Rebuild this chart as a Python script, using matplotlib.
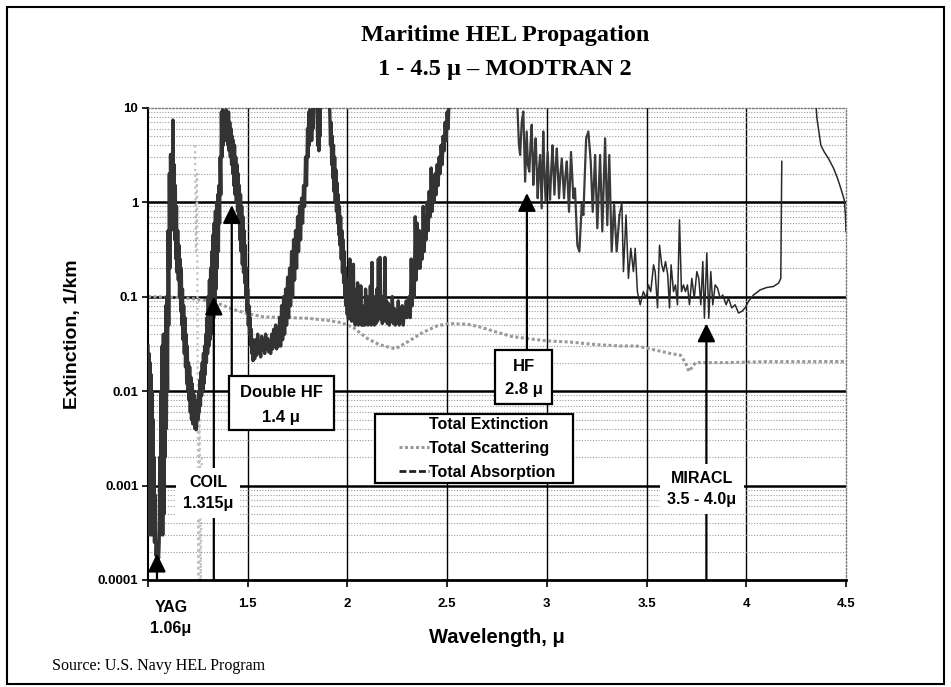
import numpy as np
import matplotlib
matplotlib.use("Agg")
import matplotlib.pyplot as plt
from matplotlib.patches import Rectangle
from matplotlib.lines import Line2D

plt.rcParams['font.family'] = ['Liberation Sans', 'DejaVu Sans']

# total absorption (wavelength in microns, 1/km)
yag_band = [
    (1.000, 0.03), (1.0025, 0.0004), (1.005, 0.025), (1.0075, 0.0003), (1.010, 0.02),
    (1.0125, 0.00035), (1.015, 0.015), (1.0175, 0.0003), (1.020, 0.01), (1.0225, 0.0004),
    (1.025, 0.005), (1.0275, 0.0003), (1.030, 0.002), (1.0325, 0.00025), (1.035, 0.0008),
    (1.038, 0.0003), (1.041, 0.00018), (1.044, 0.00025), (1.047, 0.00016), (1.050, 0.0002),
    (1.053, 0.00017), (1.056, 0.00025), (1.059, 0.002), (1.062, 0.0003), (1.065, 0.01),
    (1.068, 0.0004), (1.071, 0.03), (1.074, 0.0003), (1.077, 0.04), (1.080, 0.0005),
    (1.083, 0.04), (1.086, 0.002), (1.089, 0.08), (1.092, 0.004), (1.095, 0.1),
    (1.098, 0.01), (1.101, 0.5), (1.104, 0.05), (1.107, 2.0), (1.110, 0.2),
    (1.113, 3.2), (1.116, 0.5), (1.119, 3.0), (1.122, 0.6), (1.125, 7.4),
    (1.128, 0.8), (1.131, 2.5), (1.134, 0.4), (1.137, 1.5), (1.140, 0.25),
    (1.143, 0.9), (1.146, 0.18), (1.149, 0.5), (1.152, 0.15), (1.155, 0.35),
    (1.158, 0.1), (1.161, 0.25), (1.164, 0.07), (1.167, 0.2), (1.170, 0.05),
    (1.173, 0.12), (1.176, 0.035), (1.179, 0.08), (1.182, 0.025), (1.185, 0.06),
    (1.188, 0.018), (1.191, 0.04), (1.194, 0.012), (1.197, 0.03), (1.200, 0.01),
    (1.203, 0.02), (1.206, 0.008), (1.209, 0.018), (1.212, 0.006), (1.215, 0.014),
    (1.218, 0.005), (1.221, 0.012), (1.224, 0.0045), (1.227, 0.01), (1.230, 0.0045),
    (1.233, 0.009), (1.236, 0.004), (1.239, 0.007), (1.242, 0.0039), (1.245, 0.005),
]
coil_band = [
    (1.248, 0.008), (1.251, 0.005), (1.254, 0.01), (1.257, 0.006), (1.260, 0.013),
    (1.263, 0.007), (1.266, 0.016), (1.269, 0.009), (1.272, 0.02), (1.275, 0.01),
    (1.278, 0.025), (1.281, 0.012), (1.284, 0.03), (1.287, 0.015), (1.290, 0.04),
    (1.293, 0.02), (1.296, 0.06), (1.299, 0.025), (1.302, 0.1), (1.305, 0.03),
    (1.308, 0.15), (1.311, 0.035), (1.314, 0.2), (1.317, 0.04), (1.320, 0.3),
    (1.323, 0.05), (1.326, 0.45), (1.329, 0.06), (1.332, 0.6), (1.335, 0.08),
    (1.338, 0.8), (1.341, 0.12), (1.344, 1.0), (1.347, 0.2), (1.350, 1.2),
    (1.353, 0.3), (1.356, 1.5), (1.359, 0.6), (1.362, 3.0), (1.365, 1.2),
    (1.368, 9.0), (1.371, 3.0), (1.374, 9.5), (1.377, 4.0), (1.380, 9.0),
    (1.383, 5.0), (1.386, 8.0), (1.389, 4.5), (1.392, 9.5), (1.395, 5.0),
    (1.398, 8.5), (1.401, 4.0), (1.404, 9.0), (1.407, 3.5), (1.410, 7.0),
    (1.413, 3.0), (1.416, 6.0), (1.419, 2.5), (1.422, 5.0), (1.425, 2.0),
    (1.428, 4.5), (1.431, 1.5), (1.434, 4.0), (1.437, 1.2), (1.440, 3.0),
    (1.443, 1.0), (1.446, 2.5), (1.449, 0.8), (1.452, 2.0), (1.455, 0.6),
    (1.458, 1.5), (1.461, 0.4), (1.464, 1.2), (1.467, 0.3), (1.470, 0.9),
    (1.473, 0.22), (1.476, 0.7), (1.479, 0.18), (1.482, 0.5), (1.485, 0.14),
    (1.488, 0.35), (1.491, 0.1), (1.494, 0.2), (1.497, 0.07), (1.500, 0.12),
    (1.503, 0.05), (1.506, 0.08), (1.509, 0.04), (1.512, 0.06), (1.515, 0.03),
    (1.518, 0.045), (1.521, 0.025), (1.524, 0.035), (1.527, 0.021), (1.530, 0.03),
]
window_16 = [
    (1.535, 0.022), (1.540, 0.035), (1.545, 0.024), (1.550, 0.04), (1.555, 0.026),
    (1.560, 0.033), (1.565, 0.023), (1.570, 0.038), (1.575, 0.027), (1.580, 0.034),
    (1.585, 0.025), (1.590, 0.04), (1.595, 0.028), (1.600, 0.036), (1.605, 0.026),
    (1.610, 0.032), (1.615, 0.025), (1.620, 0.04), (1.625, 0.028), (1.630, 0.045),
    (1.635, 0.03), (1.640, 0.05), (1.645, 0.028), (1.650, 0.045),
]
band_19 = [
    (1.655, 0.03), (1.660, 0.06), (1.665, 0.03), (1.670, 0.08), (1.675, 0.035),
    (1.680, 0.1), (1.685, 0.04), (1.690, 0.12), (1.695, 0.05), (1.700, 0.16),
    (1.705, 0.06), (1.710, 0.2), (1.715, 0.08), (1.720, 0.3), (1.725, 0.1),
    (1.730, 0.4), (1.735, 0.15), (1.740, 0.5), (1.745, 0.2), (1.750, 0.7),
    (1.755, 0.3), (1.760, 0.9), (1.765, 0.4), (1.770, 1.1), (1.775, 0.6),
    (1.780, 1.5), (1.785, 0.9), (1.790, 3.0), (1.795, 1.5), (1.800, 6.0),
    (1.803, 3.0), (1.806, 9.0), (1.809, 4.0), (1.812, 9.5), (1.815, 5.0),
    (1.818, 9.0), (1.821, 4.5), (1.824, 9.5), (1.827, 6.0), (1.830, 9.0),
    (1.833, 30), (1.845, 30), (1.848, 9.0), (1.851, 4.0), (1.854, 8.0),
    (1.857, 3.5), (1.860, 9.0), (1.863, 5.0), (1.866, 30), (1.905, 30),
    (1.912, 8.0), (1.915, 4.0), (1.918, 7.0), (1.921, 2.5), (1.924, 5.0),
    (1.927, 1.8), (1.930, 4.0), (1.933, 1.3), (1.936, 3.0), (1.939, 1.0),
    (1.942, 2.2), (1.945, 0.8), (1.948, 1.6), (1.951, 0.6), (1.954, 1.2),
    (1.957, 0.45), (1.960, 0.9), (1.963, 0.35), (1.966, 0.7), (1.969, 0.25),
    (1.972, 0.5), (1.975, 0.18), (1.978, 0.4), (1.981, 0.14), (1.984, 0.3),
    (1.987, 0.1), (1.990, 0.2), (1.993, 0.08), (1.996, 0.15), (1.999, 0.065),
    (2.002, 0.12), (2.005, 0.058), (2.008, 0.09),
]
window_22 = [
    (2.012, 0.25), (2.015, 0.06), (2.018, 0.2), (2.021, 0.055), (2.024, 0.15),
    (2.027, 0.06), (2.030, 0.22), (2.033, 0.055), (2.036, 0.12), (2.039, 0.05),
    (2.043, 0.09), (2.047, 0.055), (2.051, 0.14), (2.055, 0.05), (2.059, 0.1),
    (2.063, 0.052), (2.067, 0.13), (2.071, 0.05), (2.075, 0.08), (2.079, 0.05),
    (2.083, 0.07), (2.087, 0.05), (2.091, 0.12), (2.095, 0.055), (2.099, 0.1),
    (2.103, 0.05), (2.107, 0.08), (2.111, 0.052), (2.115, 0.13), (2.119, 0.05),
    (2.123, 0.23), (2.127, 0.055), (2.131, 0.1), (2.135, 0.05), (2.139, 0.09),
    (2.143, 0.052), (2.147, 0.12), (2.151, 0.055), (2.155, 0.25), (2.159, 0.06),
    (2.163, 0.26), (2.167, 0.058), (2.171, 0.09), (2.175, 0.052), (2.179, 0.1),
    (2.183, 0.055), (2.188, 0.26), (2.192, 0.06), (2.196, 0.09), (2.200, 0.052),
    (2.205, 0.085), (2.210, 0.05), (2.215, 0.08), (2.220, 0.055), (2.225, 0.1),
    (2.230, 0.052), (2.235, 0.075), (2.240, 0.05), (2.245, 0.07), (2.250, 0.052),
    (2.255, 0.09), (2.260, 0.05), (2.265, 0.07), (2.270, 0.055), (2.275, 0.08),
    (2.280, 0.05), (2.285, 0.075), (2.290, 0.06), (2.295, 0.09),
]
band_26 = [
    (2.300, 0.06), (2.310, 0.1), (2.315, 0.06), (2.320, 0.25), (2.325, 0.08),
    (2.330, 0.2), (2.335, 0.1), (2.340, 0.7), (2.345, 0.15), (2.350, 0.6),
    (2.355, 0.2), (2.360, 0.5), (2.365, 0.2), (2.370, 0.4), (2.375, 0.25),
    (2.380, 0.9), (2.385, 0.3), (2.390, 0.7), (2.395, 0.4), (2.400, 1.0),
    (2.405, 0.5), (2.410, 1.3), (2.415, 0.7), (2.420, 2.3), (2.425, 0.8),
    (2.430, 1.6), (2.435, 1.0), (2.440, 2.0), (2.445, 1.2), (2.450, 2.5),
    (2.455, 1.5), (2.460, 3.0), (2.465, 2.0), (2.470, 4.0), (2.475, 2.5),
    (2.480, 5.0), (2.485, 3.5), (2.490, 7.0), (2.495, 4.5), (2.500, 9.0),
    (2.505, 6.0), (2.515, 30), (2.845, 30),
]
hf_band = [
    (2.845, 30), (2.854, 8.4), (2.860, 4.0), (2.866, 3.16), (2.874, 7.0), (2.882, 9.1),
    (2.891, 1.65), (2.899, 5.6), (2.905, 2.5), (2.912, 2.1), (2.918, 4.0),
    (2.924, 6.6), (2.932, 1.52), (2.938, 3.0), (2.944, 4.74), (2.954, 1.1),
    (2.960, 2.2), (2.966, 3.16), (2.974, 0.86), (2.982, 5.6), (2.988, 2.0),
    (2.994, 1.0), (3.004, 3.4), (3.010, 1.6), (3.016, 1.06), (3.022, 2.2),
    (3.028, 4.0), (3.038, 1.2), (3.044, 2.4), (3.050, 3.7), (3.061, 1.1),
    (3.068, 2.0), (3.075, 2.9), (3.086, 1.1), (3.093, 1.9), (3.100, 2.7),
    (3.111, 0.79), (3.121, 3.4), (3.133, 1.1), (3.141, 1.4), (3.153, 0.35),
    (3.163, 0.30), (3.175, 0.94), (3.183, 0.73), (3.197, 4.74), (3.208, 5.6),
    (3.220, 2.7), (3.230, 0.79), (3.242, 3.16), (3.253, 0.53), (3.267, 3.16),
    (3.278, 0.49), (3.292, 4.74), (3.303, 0.57), (3.313, 3.16), (3.325, 0.30),
    (3.337, 0.94), (3.350, 0.30), (3.364, 0.73),
]
miracl_band = [
    (3.364, 0.73), (3.376, 1.0), (3.384, 0.184), (3.397, 0.73), (3.409, 0.156), (3.421, 0.325),
    (3.434, 0.184), (3.443, 0.325), (3.454, 0.113), (3.468, 0.082), (3.484, 0.113),
    (3.498, 0.096), (3.509, 0.133), (3.521, 0.113), (3.535, 0.217), (3.543, 0.184),
    (3.555, 0.076), (3.565, 0.35), (3.576, 0.217), (3.585, 0.184), (3.595, 0.235),
    (3.606, 0.17), (3.615, 0.076), (3.623, 0.217), (3.635, 0.113), (3.645, 0.133),
    (3.655, 0.082), (3.665, 0.65), (3.675, 0.113), (3.685, 0.133), (3.695, 0.113),
    (3.705, 0.133), (3.715, 0.082), (3.727, 0.156), (3.739, 0.096), (3.752, 0.184),
    (3.762, 0.156), (3.772, 0.082), (3.782, 0.235), (3.790, 0.059), (3.802, 0.29),
    (3.812, 0.059), (3.822, 0.184), (3.832, 0.082), (3.844, 0.133), (3.856, 0.123),
    (3.869, 0.096), (3.882, 0.104), (3.899, 0.082), (3.911, 0.096), (3.927, 0.076),
    (3.944, 0.082), (3.961, 0.067), (3.978, 0.070), (3.994, 0.076), (4.011, 0.089),
    (4.036, 0.104), (4.070, 0.118), (4.103, 0.125), (4.136, 0.128), (4.162, 0.139),
    (4.173, 0.156), (4.178, 2.7), (4.178, np.nan),
]
edge_45 = [
    (4.348, 12.0), (4.354, 7.8), (4.374, 4.0), (4.391, 3.4), (4.412, 2.9),
    (4.437, 2.3), (4.457, 1.8), (4.474, 1.4), (4.491, 1.06), (4.497, 0.73),
    (4.500, 0.49),
]

# faint trace in the COIL window
faint_wl = [1.236, 1.240, 1.246, 1.252, 1.258, 1.264, 1.270]
faint_val = [4.0, 0.3, 2.0, 0.0001, 0.01, 0.00008, 0.002]

# total scattering
scat_wl = [1.00, 1.15, 1.25, 1.30, 1.35, 1.42, 1.50, 1.58, 1.70, 1.80,
           1.90, 1.97, 2.03, 2.10, 2.16, 2.24, 2.30, 2.38, 2.45, 2.51,
           2.60, 2.66, 2.75, 2.82, 2.90, 3.00, 3.12, 3.25, 3.37, 3.45,
           3.55, 3.62, 3.67, 3.695, 3.712, 3.73, 3.745, 3.90, 4.10, 4.30, 4.50]
scat_val = [0.100, 0.098, 0.094, 0.090, 0.085, 0.074, 0.066, 0.061, 0.060, 0.059,
            0.056, 0.053, 0.047, 0.036, 0.031, 0.028, 0.033, 0.042, 0.049, 0.052,
            0.051, 0.048, 0.042, 0.038, 0.036, 0.034, 0.033, 0.031, 0.030, 0.030,
            0.027, 0.025, 0.024, 0.020, 0.0162, 0.018, 0.020, 0.020, 0.0205, 0.0205, 0.0206]

# laser lines: arrow x, tip and tail
laser_wl = [1.045, 1.33, 1.42, 2.90, 3.80]
laser_tip = [0.00019, 0.1, 0.93, 1.25, 0.052]
laser_tail = [0.0001, 0.0001, 0.0145, 0.027, 0.0001]

decades = [0.001, 0.01, 0.1, 1]
x_major = [1.5, 2, 2.5, 3, 3.5, 4]


def split(band):
    return np.array([p[0] for p in band]), np.array([p[1] for p in band])


fig = plt.figure(figsize=(9.51, 6.87), dpi=100)
ax = fig.add_axes([148/951, 1-580/687, 698/951, 472.3/687])
ax.set_yscale('log')
ax.set_xlim(1, 4.5)
ax.set_ylim(1e-4, 10)

# grid
ax.grid(which='minor', axis='y', color='#9a9a9a', ls=(0, (1, 1.5)), lw=0.8)
for d in decades:
    ax.axhline(d, color='black', lw=1.8, zorder=1)
for xv in x_major:
    ax.axvline(xv, color='black', lw=1.0, zorder=1)

ax.plot(faint_wl, faint_val, color='#c0c0c0', ls=':', lw=1.6, zorder=1.5)
scat_line, = ax.plot(scat_wl, scat_val, color='#9a9a9a', ls=(0, (1, 0.8)), lw=2.2, zorder=2)

# absorption: dense bands drawn heavy, the sparser long-wave part lighter
heavy_wl, heavy_val = split(yag_band + coil_band + window_16 + band_19 + window_22 + band_26)
ax.plot(heavy_wl, heavy_val, color='#333333', lw=2.4, zorder=3)
hf_wl, hf_val = split(hf_band)
ax.plot(hf_wl, hf_val, color='#3a3a3a', lw=1.6, zorder=3)
mir_wl, mir_val = split(miracl_band + edge_45)
ax.plot(mir_wl, mir_val, color='#2a2a2a', lw=1.1, zorder=3)
abs_handle = Line2D([], [], color='#222222', ls=(0, (2.5, 1)), lw=2.0)

for xv, tip, tail in zip(laser_wl, laser_tip, laser_tail):
    ax.annotate('', xy=(xv, tip), xytext=(xv, tail),
                arrowprops=dict(arrowstyle='-|>,head_length=0.55,head_width=0.27',
                                color='black', lw=1.6, shrinkA=0, shrinkB=0,
                                mutation_scale=20), zorder=4)

# ticks and spines
ax.set_yticks([1e-4, 1e-3, 1e-2, 1e-1, 1, 10])
ax.set_yticklabels(['0.0001', '0.001', '0.01', '0.1', '1', '10'])
ax.set_xticks([1, 1.5, 2, 2.5, 3, 3.5, 4, 4.5])
ax.set_xticklabels(['', '1.5', '2', '2.5', '3', '3.5', '4', '4.5'])
ax.tick_params(axis='y', which='major', length=4, width=1.2, pad=3, labelsize=9.5)
ax.tick_params(axis='y', which='minor', length=0)
ax.tick_params(axis='x', length=5, width=1.2, pad=8, labelsize=9.5)
for lab in ax.get_xticklabels() + ax.get_yticklabels():
    lab.set_fontweight('bold')
for side in ['top', 'right']:
    ax.spines[side].set_linestyle((0, (1, 1.5)))
    ax.spines[side].set_color('#777777')
    ax.spines[side].set_linewidth(1.0)
ax.spines['left'].set_linewidth(1.5)
ax.spines['bottom'].set_linewidth(2.0)

ax.set_ylabel('Extinction, 1/km', fontsize=14, fontweight='bold')
ax.yaxis.set_label_coords(-0.096, 0.521)
ax.set_xlabel('Wavelength, μ', fontsize=14.5, fontweight='bold')
ax.xaxis.set_label_coords(0.5, -0.102)

# boxed labels
box_kw = dict(transform=ax.transAxes, facecolor='white', edgecolor='black', lw=1.6, zorder=6)
ax.add_patch(Rectangle((0.116, 0.3176), 0.1505, 0.1144, **box_kw))
ax.text(0.191, 0.396, 'Double HF', transform=ax.transAxes, ha='center', va='center',
        fontsize=12, fontweight='bold', zorder=7)
ax.text(0.191, 0.345, '1.4 μ', transform=ax.transAxes, ha='center', va='center',
        fontsize=12, fontweight='bold', zorder=7)
ax.add_patch(Rectangle((0.497, 0.3727), 0.082, 0.1143, **box_kw))
ax.text(0.538, 0.453, 'HF', transform=ax.transAxes, ha='center', va='center',
        fontsize=12, fontweight='bold', zorder=7)
ax.text(0.538, 0.404, '2.8 μ', transform=ax.transAxes, ha='center', va='center',
        fontsize=12, fontweight='bold', zorder=7)

plain_kw = dict(transform=ax.transAxes, ha='center', va='center', fontsize=11.5,
                fontweight='bold', linespacing=1.5, zorder=7)
ax.text(0.086, 0.184, 'COIL\n1.315μ', bbox=dict(boxstyle='square,pad=0.45', fc='white', ec='none'), **plain_kw)
ax.text(0.7937, 0.1927, 'MIRACL\n3.5 - 4.0μ', bbox=dict(boxstyle='square,pad=0.45', fc='white', ec='none'), **plain_kw)
ax.text(0.033, -0.080, 'YAG\n1.06μ', clip_on=False, **plain_kw)

# legend
ax.add_patch(Rectangle((0.325, 0.2054), 0.284, 0.1461, **box_kw))
ext_handle = Line2D([], [], color='none')
leg = ax.legend([ext_handle, scat_line, abs_handle],
                ['Total Extinction', 'Total Scattering', 'Total Absorption'],
                loc='upper left', bbox_to_anchor=(0.355, 0.352), frameon=False,
                prop={'weight': 'bold', 'size': 11.5}, handlelength=1.9,
                handletextpad=0.0, labelspacing=0.55, borderpad=0.2, borderaxespad=0)
leg.set_zorder(8)

# titles, source, frame
fig.text(505/951, 1-36/687, 'Maritime HEL Propagation', ha='center', va='center',
         fontsize=17.5, fontweight='bold', family=['Liberation Serif', 'DejaVu Serif'])
fig.text(505/951, 1-70/687, '1 - 4.5 μ – MODTRAN 2', ha='center', va='center',
         fontsize=17.5, fontweight='bold', family=['Liberation Serif', 'DejaVu Serif'])
fig.text(52/951, 1-666/687, 'Source: U.S. Navy HEL Program', ha='left', va='center',
         fontsize=11.5, family=['Liberation Serif', 'DejaVu Serif'])
fig.add_artist(Rectangle((7/951, 3/687), 937/951, 677/687, transform=fig.transFigure,
                         fill=False, ec='black', lw=1.5))

fig.savefig('out.png', dpi=100)
